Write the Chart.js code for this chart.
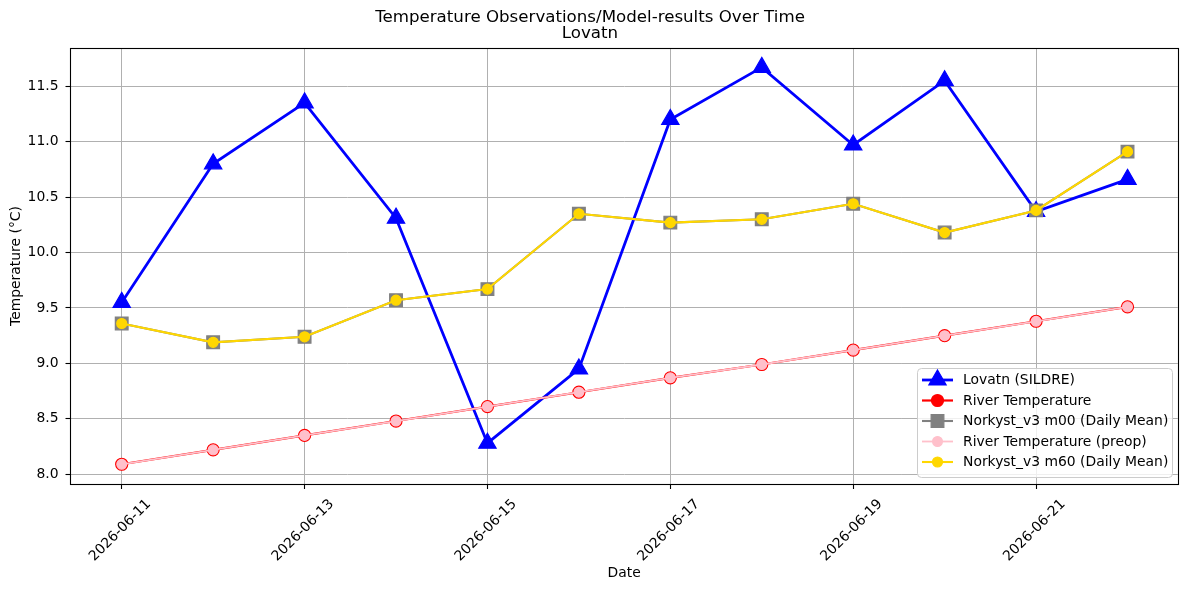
<!DOCTYPE html>
<html><head><meta charset="utf-8">
<script src="https://cdn.jsdelivr.net/npm/chart.js@4/dist/chart.umd.min.js"></script>
<style>html,body{margin:0;padding:0;background:#fff;} #wrap{width:1189px;height:590px;position:relative;}</style>
</head><body><div id="wrap"><canvas id="c" width="1189" height="590"></canvas></div>
<script>
// ---- data ----
const dates = ['2026-06-11','2026-06-12','2026-06-13','2026-06-14','2026-06-15','2026-06-16',
               '2026-06-17','2026-06-18','2026-06-19','2026-06-20','2026-06-21','2026-06-22'];
const xTickLabels = ['2026-06-11','2026-06-13','2026-06-15','2026-06-17','2026-06-19','2026-06-21'];
const yTickValues = [8.0, 8.5, 9.0, 9.5, 10.0, 10.5, 11.0, 11.5];
const lovatn      = [9.55, 10.80, 11.35, 10.31, 8.28, 8.95, 11.20, 11.67, 10.97, 11.55, 10.37, 10.66];
const riverTemp   = [8.09, 8.22, 8.35, 8.48, 8.61, 8.74, 8.87, 8.99, 9.12, 9.25, 9.38, 9.51];
const riverPreop  = [8.09, 8.22, 8.35, 8.48, 8.61, 8.74, 8.87, 8.99, 9.12, 9.25, 9.38, 9.51];
const norkystM00  = [9.36, 9.19, 9.24, 9.57, 9.67, 10.35, 10.27, 10.30, 10.44, 10.18, 10.38, 10.91];
const norkystM60  = [9.36, 9.19, 9.24, 9.57, 9.67, 10.35, 10.27, 10.30, 10.44, 10.18, 10.38, 10.91];
const seriesLabels = ['Lovatn (SILDRE)','River Temperature','Norkyst_v3 m00 (Daily Mean)','River Temperature (preop)','Norkyst_v3 m60 (Daily Mean)'];

const toPts = arr => arr.map((v,i)=>({x:i, y:v}));
const xTickIdx = xTickLabels.map(l => dates.indexOf(l));

Chart.defaults.font.family = "'DejaVu Sans', sans-serif";
Chart.defaults.color = '#000';

function markerPath(ctx, style, x, y, r){
  ctx.beginPath();
  if (style === 'triangle'){
    for (let k=0;k<3;k++){
      const a = k*2*Math.PI/3;
      const px = x + Math.sin(a)*r, py = y - Math.cos(a)*r;
      if (k===0) ctx.moveTo(px,py); else ctx.lineTo(px,py);
    }
    ctx.closePath();
  } else if (style === 'rect'){
    const s = Math.SQRT1_2*r;
    ctx.rect(x-s, y-s, 2*s, 2*s);
  } else {
    ctx.arc(x, y, r, 0, Math.PI*2);
  }
}

const framePlugin = {
  id:'frame',
  afterDatasetsDraw(chart){
    const {ctx, chartArea:a} = chart;
    const l = Math.floor(a.left)+0.5, r = Math.round(a.right)+0.5;
    const t = Math.round(a.top)+0.5, b = Math.round(a.bottom)+0.5;
    ctx.save();
    ctx.strokeStyle = '#000'; ctx.lineWidth = 1.1;
    ctx.strokeRect(l, t, r-l, b-t);
    ctx.restore();
  }
};

const legendPlugin = {
  id:'innerLegend',
  afterDraw(chart){
    const ctx = chart.ctx;
    const bx = 917.5, by = 368.5, bw = 255, bh = 109, br = 4;
    ctx.save();
    ctx.beginPath();
    ctx.roundRect(bx, by, bw, bh, br);
    ctx.fillStyle = 'rgba(255,255,255,0.8)';
    ctx.fill();
    ctx.strokeStyle = '#cccccc'; ctx.lineWidth = 1;
    ctx.stroke();
    const ds = chart.data.datasets;
    const x0 = 922, x1 = 953, mx = 937.5, tx = 963;
    ctx.font = "13.9px 'DejaVu Sans'";
    ctx.textBaseline = 'middle';
    ds.forEach((d,i)=>{
      const y = 380 + i*20.5;
      ctx.beginPath();
      ctx.moveTo(x0, y); ctx.lineTo(x1, y);
      ctx.strokeStyle = d.borderColor; ctx.lineWidth = d.borderWidth;
      ctx.stroke();
      markerPath(ctx, d.pointStyle, mx, y, d.pointRadius);
      ctx.fillStyle = d.pointBackgroundColor; ctx.fill();
      ctx.strokeStyle = d.pointBorderColor; ctx.lineWidth = d.pointBorderWidth; ctx.stroke();
      ctx.fillStyle = '#000';
      ctx.textAlign = 'left';
      ctx.fillText(d.label, tx, y+0.5);
    });
    ctx.restore();
  }
};

const mk = (label, data, color, lw, style, r, order, fill) => ({
  label, data: toPts(data), borderColor: color, borderWidth: lw,
  pointStyle: style, pointRadius: r, pointHoverRadius: r,
  pointBackgroundColor: fill || color, pointBorderColor: color, pointBorderWidth: 1.2,
  tension: 0, fill: false, order, clip: false
});

const datasets = [
  mk(seriesLabels[0], lovatn, '#0000ff', 2.8, 'triangle', 10, 5),
  mk(seriesLabels[1], riverTemp, '#ff0000', 2.2, 'circle', 6, 4),
  mk(seriesLabels[2], norkystM00, '#808080', 2.1, 'rect', 9, 3),
  mk(seriesLabels[3], riverPreop, '#ffc0cb', 1.8, 'circle', 4.9, 2),
  mk(seriesLabels[4], norkystM60, '#ffd700', 2.1, 'circle', 5, 1),
];

new Chart(document.getElementById('c'), {
  type: 'line',
  data: { datasets },
  plugins: [framePlugin, legendPlugin],
  options: {
    responsive: false, animation: false,
    layout: { padding: { left: 0, right: 9, top: 0, bottom: 0 } },
    plugins: {
      legend: { display: false },
      tooltip: { enabled: false },
      title: {
        display: true,
        text: ['Temperature Observations/Model-results Over Time', 'Lovatn'],
        font: { size: 16.67, weight: 'normal', lineHeight: 0.96 },
        color: '#000',
        padding: { top: 10, bottom: 6 }
      }
    },
    scales: {
      x: {
        type: 'linear', min: -0.56, max: 11.55,
        afterBuildTicks: s => { s.ticks = xTickIdx.map(v => ({ value: v })); },
        afterFit: s => { s.height = 106; },
        ticks: {
          autoSkip: false, minRotation: 45, maxRotation: 45, labelOffset: 27, padding: 7,
          font: { size: 13.9 }, color: '#000',
          callback: v => dates[v]
        },
        grid: { color: '#b0b0b0', lineWidth: 1, tickColor: '#000', tickLength: 5, tickWidth: 1.1 },
        border: { display: false },
        title: { display: true, text: 'Date', font: { size: 13.9 }, color: '#000', padding: { top: 0, bottom: 8 } }
      },
      y: {
        type: 'linear', min: 7.912, max: 11.845,
        afterBuildTicks: s => { s.ticks = yTickValues.map(v => ({ value: v })); },
        afterFit: s => { s.width = 70.5; },
        ticks: { font: { size: 13.9 }, color: '#000', padding: 7, callback: v => Number(v).toFixed(1) },
        grid: { color: '#b0b0b0', lineWidth: 1, tickColor: '#000', tickLength: 5, tickWidth: 1.1 },
        border: { display: false },
        title: { display: true, text: 'Temperature (°C)', font: { size: 13.9 }, color: '#000', padding: { top: 8, bottom: 0 } }
      }
    }
  }
});
</script>
</body></html>
